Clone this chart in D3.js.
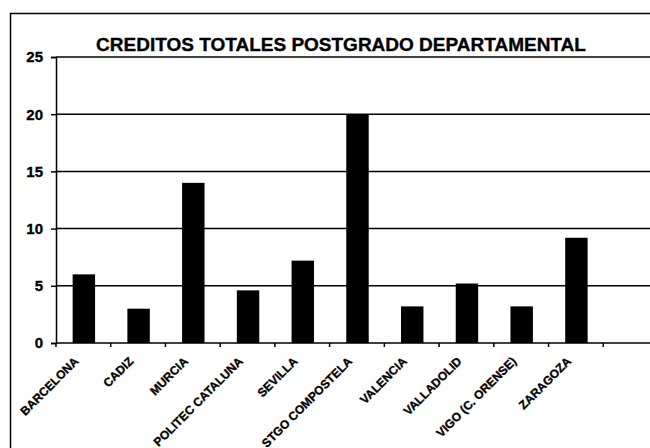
<!DOCTYPE html>
<html>
<head>
<meta charset="utf-8">
<script src="https://cdn.jsdelivr.net/npm/d3@7"></script>
<style>
  body { margin: 0; background: #fff; }
  text { font-family: "Liberation Sans", Arial, sans-serif; font-weight: bold; fill: #000; stroke: #000; stroke-width: 0.35px; }
</style>
</head>
<body>
<svg id="chart" width="650" height="448"></svg>
<script>
var categories = ["BARCELONA", "CADIZ", "MURCIA", "POLITEC CATALUNA", "SEVILLA",
                  "STGO COMPOSTELA", "VALENCIA", "VALLADOLID", "VIGO (C. ORENSE)", "ZARAGOZA"];
var creditos = [6, 3, 14, 4.6, 7.2, 20, 3.2, 5.2, 3.2, 9.2];
var yTicks = [0, 5, 10, 15, 20, 25];
var title = "CREDITOS TOTALES POSTGRADO DEPARTAMENTAL";

function drawChart() {
    var svg = d3.select("#chart");
    var plotLeft = 56, plotTop = 57, plotBottom = 343, plotRight = 658;
    var slot = (plotRight - plotLeft) / 11; // one empty slot at the end

    var x = d3.scaleBand().domain(categories).range([plotLeft, plotLeft + slot * categories.length]).padding(0);
    var y = d3.scaleLinear().domain([0, 25]).range([plotBottom, plotTop]);

    // outer frame (cropped on right and bottom)
    svg.append("path")
        .attr("d", "M10.5,448 L10.5,13.5 L650,13.5")
        .attr("fill", "none").attr("stroke", "#000").attr("stroke-width", 1.5);

    // title
    svg.append("text")
        .attr("x", 341).attr("y", 51)
        .attr("text-anchor", "middle")
        .attr("font-size", "19px")
        .text(title);

    // gridlines
    svg.append("g").selectAll("line")
        .data(yTicks.filter(function (d) { return d > 0; }))
        .enter().append("line")
        .attr("x1", plotLeft).attr("x2", plotRight)
        .attr("y1", function (d) { return y(d); })
        .attr("y2", function (d) { return y(d); })
        .attr("stroke", "#000").attr("stroke-width", 1.5);

    // bars
    var barW = x.bandwidth() * 0.41;
    svg.append("g").selectAll("rect")
        .data(creditos)
        .enter().append("rect")
        .attr("x", function (d, i) { return x(categories[i]) + x.bandwidth() / 2 - barW / 2 + 0.5; })
        .attr("y", function (d) { return y(d); })
        .attr("width", barW)
        .attr("height", function (d) { return plotBottom - y(d); })
        .attr("fill", "#000");

    // y axis
    var yAxis = d3.axisLeft(y).tickValues(yTicks).tickSize(5).tickPadding(8);
    var gy = svg.append("g").attr("transform", "translate(" + plotLeft + ",0)").call(yAxis);
    gy.select(".domain").attr("stroke-width", 1.5);
    gy.selectAll(".tick line").attr("stroke-width", 1.5);
    gy.selectAll("text").attr("font-size", "15px")
        .attr("font-family", "Liberation Sans, Arial, sans-serif").attr("font-weight", "bold");

    // x axis baseline and ticks at slot boundaries
    svg.append("line")
        .attr("x1", plotLeft).attr("x2", plotRight).attr("y1", plotBottom).attr("y2", plotBottom)
        .attr("stroke", "#000").attr("stroke-width", 1.5);
    svg.append("g").selectAll("line")
        .data(d3.range(categories.length + 1))
        .enter().append("line")
        .attr("x1", function (k) { return plotLeft + k * slot; })
        .attr("x2", function (k) { return plotLeft + k * slot; })
        .attr("y1", plotBottom).attr("y2", plotBottom + 4)
        .attr("stroke", "#000").attr("stroke-width", 1.5);

    // rotated category labels
    svg.append("g").selectAll("text")
        .data(categories)
        .enter().append("text")
        .attr("transform", function (d) {
            return "translate(" + (x(d) + x.bandwidth() / 2 - 4) + "," + 362 + ") rotate(-45)";
        })
        .attr("text-anchor", "end")
        .attr("font-size", "12px")
        .text(function (d) { return d; });
}

drawChart();
</script>
</body>
</html>
